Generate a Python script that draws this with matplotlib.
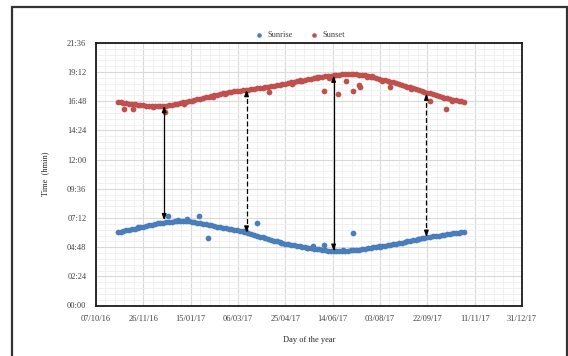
import numpy as np
import pandas as pd
import matplotlib
matplotlib.use("Agg")
import matplotlib.pyplot as plt
import matplotlib.dates as mdates
from matplotlib.ticker import FixedLocator, MultipleLocator, FuncFormatter
from matplotlib.patches import Rectangle

plt.rcParams['font.family'] = ['Liberation Serif', 'DejaVu Serif']

# sunrise / sunset times (minutes after midnight), one reading every 3 days
obs_dates = pd.date_range('2016-10-30', periods=123, freq='3D')
sunrise = [362, 365, 369, 371, 374, 378, 380, 383, 387, 389, 392, 396, 398, 401, 405, 407,
           409, 412, 413, 414, 416, 417, 416, 418, 416, 415, 413, 412, 409, 406, 404, 401,
           398, 396, 393, 390, 387, 385, 381, 379, 377, 375, 373, 369, 366, 361, 356, 352,
           347, 344, 339, 336, 332, 329, 324, 320, 318, 313, 309, 305, 302, 300, 297, 295,
           292, 289, 287, 285, 283, 281, 279, 277, 275, 273, 271, 270, 269, 268, 268, 269,
           269, 270, 272, 273, 275, 276, 278, 280, 282, 284, 287, 289, 292, 294, 296, 298,
           300, 302, 305, 307, 310, 313, 316, 319, 322, 325, 328, 331, 334, 337, 339, 341,
           343, 345, 347, 350, 352, 354, 356, 358, 360, 362, 364]
sunset = [1005, 1003, 1001, 999, 997, 996, 994, 992, 990, 988, 986, 985, 984, 983, 984, 985,
          985, 987, 989, 991, 994, 996, 999, 1003, 1006, 1009, 1012, 1015, 1018, 1021, 1024, 1027,
          1030, 1033, 1037, 1040, 1044, 1047, 1050, 1052, 1055, 1058, 1059, 1061, 1063, 1064, 1066, 1068,
          1070, 1072, 1074, 1076, 1078, 1080, 1082, 1085, 1088, 1091, 1094, 1096, 1099, 1101, 1103, 1106,
          1108, 1110, 1113, 1116, 1118, 1121, 1124, 1127, 1129, 1131, 1133, 1134, 1136, 1138, 1140, 1141,
          1142, 1143, 1143, 1143, 1142, 1140, 1138, 1136, 1133, 1130, 1126, 1122, 1118, 1115, 1111, 1108,
          1105, 1101, 1097, 1093, 1089, 1085, 1081, 1077, 1073, 1069, 1064, 1060, 1055, 1051, 1047, 1043,
          1039, 1035, 1031, 1026, 1022, 1019, 1016, 1013, 1010, 1008, 1006]

# extra readings scattered around / away from the main trend
sunrise_odd_dates = pd.to_datetime(['2016-12-22', '2017-01-11', '2017-01-24', '2017-02-02',
                                    '2017-03-26', '2017-05-24', '2017-06-05', '2017-07-06',
                                    '2016-11-20', '2017-01-02', '2017-03-12', '2017-04-20',
                                    '2017-05-18', '2017-06-25', '2017-08-03', '2017-09-12'])
sunrise_odd = [440, 427, 440, 335, 407, 294, 300, 358,
               388, 422, 362, 309, 282, 274, 290, 330]
sunset_odd_dates = pd.to_datetime(['2016-11-06', '2016-11-15', '2016-12-19', '2017-04-08',
                                   '2017-06-05', '2017-06-20', '2017-06-28', '2017-07-06',
                                   '2017-07-12', '2017-07-13', '2017-08-14', '2017-09-25',
                                   '2017-10-12', '2017-02-08', '2017-02-20', '2017-05-02',
                                   '2017-05-10', '2017-05-28', '2017-06-10', '2017-07-20',
                                   '2017-07-26', '2017-08-05', '2017-09-05', '2017-10-18',
                                   '2016-12-06', '2017-01-08'])
sunset_odd = [969, 972, 955, 1056, 1058, 1044, 1109, 1061, 1089, 1077, 1077, 1011, 969,
              1030, 1043, 1095, 1113, 1130, 1125, 1128, 1133, 1109, 1068, 1012, 978, 995]

# day-length arrows (solstices solid, equinoxes dashed)
arrow_dates = pd.to_datetime(['2016-12-18', '2017-03-15', '2017-06-15', '2017-09-21'])
arrow_top = [985, 1064, 1135, 1046]
arrow_bottom = [421, 360, 270, 339]
arrow_styles = ['-', '--', '-', '--']

tick_dates = pd.date_range('2016-10-07', periods=10, freq='50D')
minor_dates = pd.date_range('2016-10-07', periods=46, freq='10D')

blue = '#4A7EBB'
red = '#C0504D'

fig = plt.figure(figsize=(5.68, 3.56), dpi=100)
ax = fig.add_axes([96 / 568, 1 - 305.5 / 356, 426 / 568, 262.5 / 356])

ax.scatter(list(obs_dates) + list(sunrise_odd_dates), sunrise + sunrise_odd,
           s=17, color=blue, linewidths=0, label='Sunrise', zorder=3)
ax.scatter(list(obs_dates) + list(sunset_odd_dates), sunset + sunset_odd,
           s=17, color=red, linewidths=0, label='Sunset', zorder=3)

# shaft as a plain line so the dash pattern shows, heads drawn on top
for d, top, bot, ls in zip(arrow_dates, arrow_top, arrow_bottom, arrow_styles):
    ax.plot([d, d], [bot + 10, top - 10], color='black', lw=0.9,
            linestyle=(0, (4, 2)) if ls == '--' else '-', zorder=4)
    for tip, tail in ((top, top - 30), (bot, bot + 30)):
        ax.annotate('', xy=(d, tip), xytext=(d, tail),
                    arrowprops=dict(arrowstyle='-|>,head_length=0.35,head_width=0.13',
                                    color='black', lw=0.9, shrinkA=0, shrinkB=0),
                    zorder=4)

ax.set_xlim(tick_dates[0], tick_dates[-1])
ax.set_ylim(0, 1296)
ax.xaxis.set_major_locator(FixedLocator(mdates.date2num(tick_dates)))
ax.xaxis.set_minor_locator(FixedLocator(mdates.date2num(minor_dates)))
ax.xaxis.set_major_formatter(mdates.DateFormatter('%d/%m/%y'))
ax.yaxis.set_major_locator(MultipleLocator(144))
ax.yaxis.set_minor_locator(MultipleLocator(28.8))
ax.yaxis.set_major_formatter(FuncFormatter(lambda v, p: '%02d:%02d' % (v // 60, v % 60)))

ax.grid(which='major', color='#d9d9d9', lw=0.8)
ax.grid(which='minor', color='#efefef', lw=0.6)
ax.set_axisbelow(True)
ax.tick_params(which='both', length=0, labelsize=6, colors='#404040', pad=7)
for sp in ax.spines.values():
    sp.set_linewidth(1.3)
    sp.set_color('#1a1a1a')

ax.set_xlabel('Day of the year', fontsize=6, color='#262626', labelpad=9)
ax.set_ylabel('Time  (hmin)', fontsize=6, color='#262626', labelpad=13)

fig.legend(loc='center', bbox_to_anchor=(298 / 568, 1 - 35 / 356), ncol=2, frameon=False,
           fontsize=6, handletextpad=0.05, columnspacing=1.5, markerscale=0.8,
           labelcolor='#404040')

# outer frame around the chart
fig.add_artist(Rectangle((12 / 568, -0.1), 555 / 568, 1.1 - 7 / 356, transform=fig.transFigure,
                         fill=False, edgecolor='#333333', lw=1.6))

fig.savefig('out.png', dpi=100)
